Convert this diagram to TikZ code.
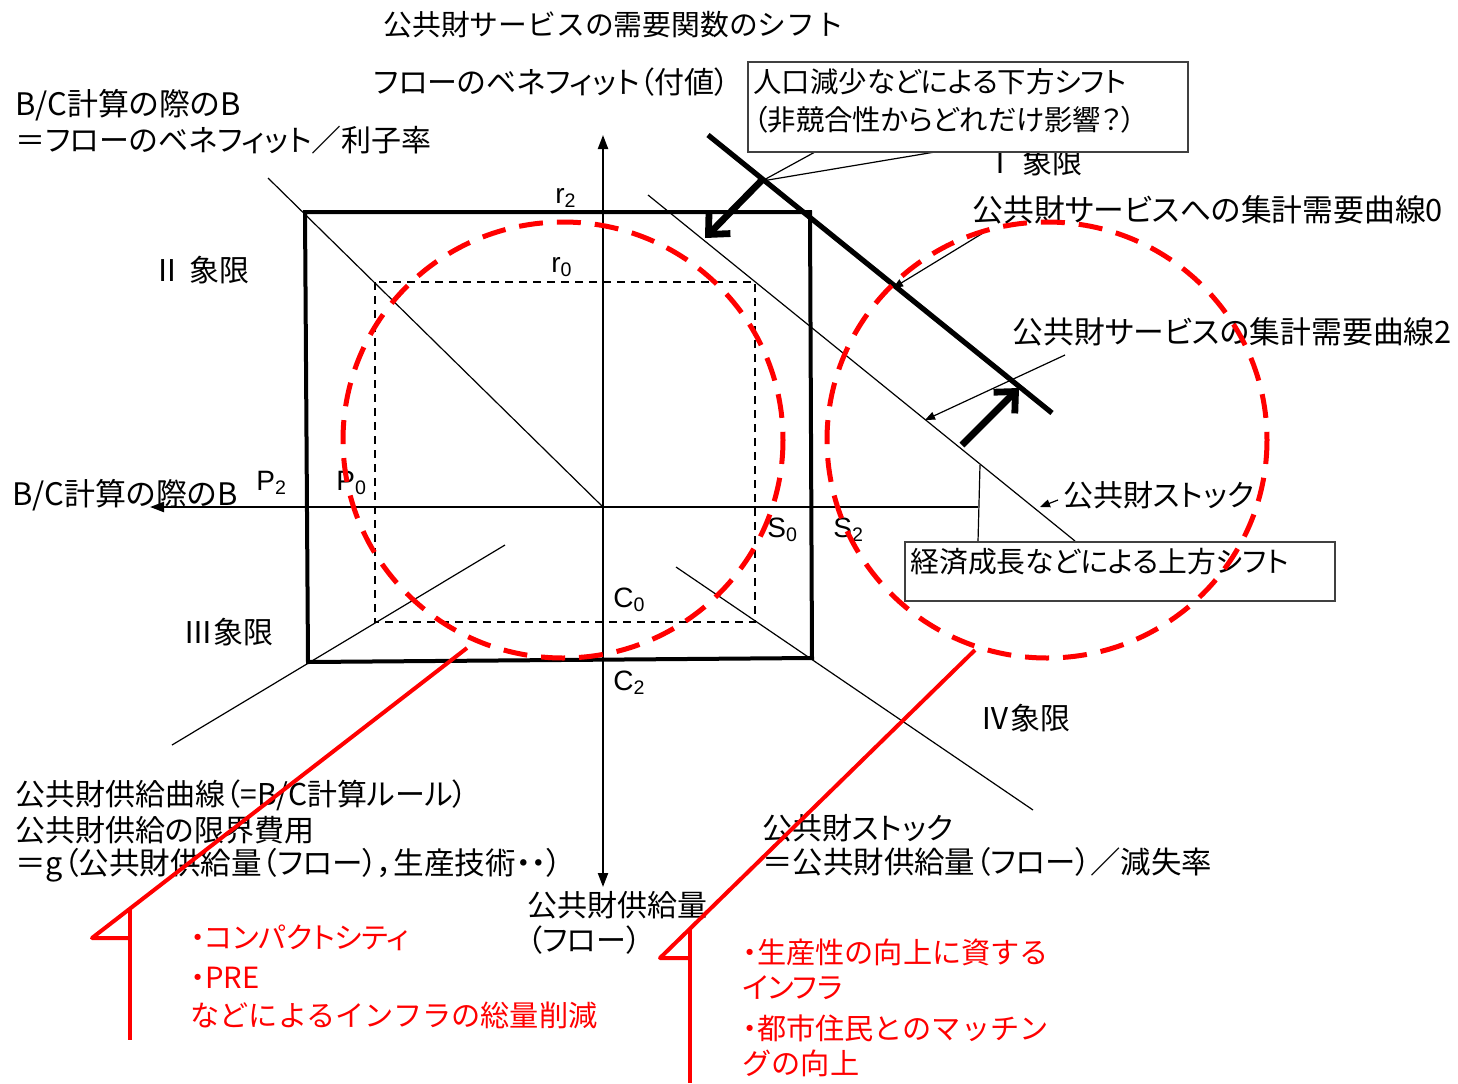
\documentclass[tikz,border=0pt]{standalone}
\usepackage{fontspec}
\setmainfont{Liberation Sans}
\newfontfamily\jp[RawFeature=+palt]{Noto Sans CJK JP}
\newfontfamily\jr{Noto Sans CJK JP}
\usetikzlibrary{arrows.meta}
\newcommand\fsz[1]{\fontsize{#1}{#1}\selectfont}
\newcommand\hdot{{\jp ・}}
\definecolor{redc}{RGB}{255,0,0}
\begin{document}
\begin{tikzpicture}[x=0.5pt,y=-0.5pt,
  lbl/.style={inner sep=0pt, anchor=west, font=\jp\fsz{15pt}},
  rlbl/.style={inner sep=0pt, anchor=west, text=redc, font=\jr\fsz{14.6pt}},
  sym/.style={inner sep=0pt, anchor=west, font=\fsz{14pt}},
  thinline/.style={line width=0.6pt},
  axisline/.style={line width=1.1pt},
  thickbox/.style={line width=2pt},
  thickcurve/.style={line width=2.6pt},
  dashbox/.style={line width=0.7pt, dash pattern=on 4pt off 3pt},
  redcircle/.style={draw=redc, line width=2.5pt, dash pattern=on 12pt off 7pt},
  redline/.style={draw=redc, line width=2pt, line join=round},
  callout/.style={draw=black!75, fill=white, line width=1pt},
  tip/.style={-{Triangle[length=7pt,width=5pt]}},
  smalltip/.style={-{Triangle[length=5pt,width=4pt]}},
  bigarrow/.style={line width=3.4pt, -{Straight Barb[length=8pt,width=15pt]}}
]
\useasboundingbox (0,0) rectangle (1458,1083);

% ---------- coordinates
\coordinate (O) at (603,507);
\coordinate (ytop) at (603,135);
\coordinate (ybot) at (603,887);
\coordinate (xleft) at (150,507);
\coordinate (xright) at (978,507);

% ---------- axes
\draw[axisline, tip] (O) -- (ytop);
\draw[axisline, tip] (O) -- (ybot);
\draw[axisline, tip] (xright) -- (xleft);

% ---------- thin curves
\coordinate (q2a) at (268,178);
\draw[thinline] (q2a) -- (O);
\coordinate (q3a) at (172,745); \coordinate (q3b) at (505,545);
\draw[thinline] (q3a) -- (q3b);
\coordinate (q4a) at (676,567); \coordinate (q4b) at (1033,810);
\draw[thinline] (q4a) -- (q4b);
\coordinate (d2a) at (648,195); \coordinate (d2b) at (1075,541);
\draw[thinline] (d2a) -- (d2b);

% ---------- thick demand curve 0
\coordinate (d0a) at (708,135); \coordinate (d0b) at (1052,413);
\draw[thickcurve] (d0a) -- (d0b);

% ---------- squares
\draw[thickbox] (305,212) -- (810,212) -- (812,658) -- (308,662) -- cycle;
\draw[dashbox] (375,282) rectangle (755,622);

% ---------- labels on axes
\node[sym] (r2) at (555,198) {r\textsubscript{2}};
\node[sym] (r0) at (551,267) {r\textsubscript{0}};
\node[sym] (p2) at (256,483) {P\textsubscript{2}};
\node[sym] (p0) at (336,483) {P\textsubscript{0}};
\node[sym] (s0) at (767,530) {S\textsubscript{0}};
\node[sym] (s2) at (833,530) {S\textsubscript{2}};
\node[sym] (c0) at (613,600) {C\textsubscript{0}};
\node[sym] (c2) at (613,683) {C\textsubscript{2}};

% ---------- black texts
\node[lbl, font=\jr\fsz{14.4pt}] (title) at (383,25) {公共財サービスの需要関数のシフト};
\node[lbl] (flow) at (373,82) {フローのベネフィット（付値）};
\node[lbl, font=\jp\fsz{15.5pt}] (bc1) at (15,105) {B/C計算の際のB};
\node[lbl] (bc2) at (15,140) {＝フローのベネフィット／利子率};
\node[lbl] (q1) at (985,162) {Ⅰ 象限};
\node[lbl] (q2) at (152,270) {Ⅱ 象限};
\node[lbl] (q3) at (183,632) {Ⅲ象限};
\node[lbl] (q4) at (980,718) {Ⅳ象限};
\node[lbl, font=\jp\fsz{15.4pt}] (d0) at (972,210) {公共財サービスへの集計需要曲線0};
\node[lbl, font=\jp\fsz{15.4pt}] (d2) at (1012,332) {公共財サービスの集計需要曲線2};
\node[lbl] (stk) at (1063,495) {公共財ストック};
\node[lbl, font=\jp\fsz{15.5pt}] (bcB) at (12,495) {B/C計算の際のB};
\node[lbl] (sup1) at (15,795) {公共財供給曲線（=B/C計算ルール）};
\node[lbl] (sup2) at (15,830) {公共財供給の限界費用};
\node[lbl, font=\jp\fsz{15.3pt}] (sup3) at (15,865) {＝g（公共財供給量（フロー），生産技術・・）};
\node[lbl] (st1) at (762,828) {公共財ストック};
\node[lbl, font=\jp\fsz{15.2pt}] (st2) at (762,862) {＝公共財供給量（フロー）／減失率};
\node[lbl] (qty1) at (527,905) {公共財供給量};
\node[lbl] (qty2) at (527,940) {（フロー）};

% ---------- label arrows
\coordinate (d0s) at (988,230); \coordinate (d0t) at (893,288);
\draw[thinline, smalltip] (d0s) -- (d0t);
\coordinate (d2s) at (1065,355); \coordinate (d2t) at (925,420);
\draw[thinline, smalltip] (d2s) -- (d2t);
\coordinate (sks) at (1058,500); \coordinate (skt) at (1040,507);
\draw[thinline, smalltip] (sks) -- (skt);

% ---------- shift arrows
\coordinate (dn1) at (762,180); \coordinate (dn2) at (705,238);
\draw[bigarrow] (dn1) -- (dn2);
\coordinate (up1) at (962,445); \coordinate (up2) at (1019,388);
\draw[bigarrow] (up1) -- (up2);

% ---------- callout 1
\coordinate (c1p) at (762,181);
\coordinate (c1a) at (815,152); \coordinate (c1b) at (935,152);
\draw[thinline] (c1a) -- (c1p) -- (c1b);
\node[callout, minimum width=220pt, minimum height=45pt, inner sep=0pt] (box1) at (968,107) {};
\node[lbl, font=\jp\fsz{14.2pt}] (b1t1) at (753,82) {人口減少などによる下方シフト};
\node[lbl, font=\jp\fsz{14.2pt}] (b1t2) at (753,120) {（非競合性からどれだけ影響？）};

% ---------- callout 2
\coordinate (c2p) at (980,465); \coordinate (c2a) at (978,542);
\draw[thinline] (c2a) -- (c2p);
\node[callout, minimum width=215pt, minimum height=29.5pt, inner sep=0pt] (box2) at (1120,571.5) {};
\node[lbl, font=\jp\fsz{14.4pt}] (b2t) at (910,562) {経済成長などによる上方シフト};

% ---------- red circles
\draw[redcircle] (563,440) ellipse [x radius=220, y radius=218];
\draw[redcircle] (1047,440) ellipse [x radius=220, y radius=218];

% ---------- red callouts
\coordinate (ra1) at (467,648); \coordinate (ra2) at (92,938);
\coordinate (ra3) at (130,938); \coordinate (ra4) at (130,909); \coordinate (ra5) at (130,1040);
\draw[redline] (ra1) -- (ra2) -- (ra3);
\draw[redline] (ra4) -- (ra5);
\coordinate (rb1) at (975,650); \coordinate (rb2) at (660,958);
\coordinate (rb3) at (690,958); \coordinate (rb4) at (690,929); \coordinate (rb5) at (690,1083);
\draw[redline] (rb1) -- (rb2) -- (rb3);
\draw[redline] (rb4) -- (rb5);

\node[rlbl, font=\jp\fsz{14.6pt}] (ra_t1) at (190,938) {・コンパクトシティ};
\node[rlbl] (ra_t2) at (190,978) {\hdot PRE};
\node[rlbl] (ra_t3) at (190,1015) {などによるインフラの総量削減};
\node[rlbl] (rb_t1) at (742,952) {\hdot 生産性の向上に資する};
\node[rlbl, font=\jp\fsz{14.6pt}] (rb_t2) at (742,988) {インフラ};
\node[rlbl] (rb_t3) at (742,1028) {\hdot 都市住民とのマッチン};
\node[rlbl] (rb_t4) at (742,1063) {グの向上};
\end{tikzpicture}
\end{document}
